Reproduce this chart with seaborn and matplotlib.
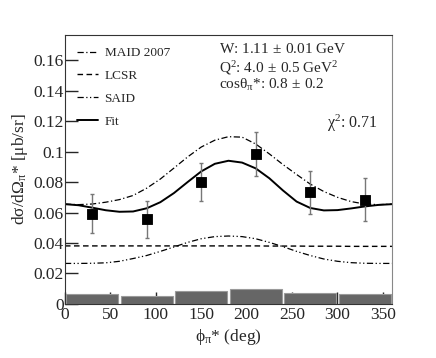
import numpy as np
import pandas as pd
import matplotlib
matplotlib.use('Agg')
import matplotlib.pyplot as plt
import seaborn as sns

# measured points
phi_data = [30, 90, 150, 210, 270, 330]
xs_data = [0.0593, 0.0556, 0.0798, 0.0985, 0.0732, 0.0684]
xs_err = [0.0127, 0.0121, 0.0124, 0.0142, 0.0140, 0.0141]

# systematic uncertainty bands
sys_phi = [30, 90, 150, 210, 270, 330]
sys_val = [0.0062, 0.0051, 0.0084, 0.0101, 0.0073, 0.0062]

# model curves, read every 15 deg
phi_grid = [0, 15, 30, 45, 60, 75, 90, 105, 120, 135, 150, 165, 180,
            195, 210, 225, 240, 255, 270, 285, 300, 315, 330, 345, 360]
maid = [0.0655, 0.0652, 0.0656, 0.0668, 0.0685, 0.0712, 0.0760, 0.0820, 0.0892,
        0.0965, 0.1030, 0.1075, 0.1098, 0.1095, 0.1050, 0.0985, 0.0915, 0.0850,
        0.0787, 0.0738, 0.0700, 0.0672, 0.0656, 0.0652, 0.0655]
lcsr = [0.0381, 0.0381, 0.0381, 0.0381, 0.0381, 0.0381, 0.0381, 0.0381, 0.0381,
        0.0381, 0.0381, 0.0381, 0.0381, 0.0381, 0.0381, 0.0380, 0.0380, 0.0380,
        0.0379, 0.0379, 0.0379, 0.0378, 0.0378, 0.0378, 0.0378]
said = [0.0266, 0.0266, 0.0267, 0.0270, 0.0280, 0.0298, 0.0318, 0.0345, 0.0374,
        0.0404, 0.0428, 0.0442, 0.0446, 0.0442, 0.0428, 0.0404, 0.0376, 0.0345,
        0.0318, 0.0295, 0.0280, 0.0271, 0.0267, 0.0266, 0.0266]
fit = [0.0655, 0.0648, 0.0632, 0.0615, 0.0605, 0.0607, 0.0628, 0.0668, 0.0728,
       0.0800, 0.0870, 0.0920, 0.0940, 0.0928, 0.0890, 0.0825, 0.0745, 0.0672,
       0.0630, 0.0614, 0.0616, 0.0627, 0.0640, 0.0650, 0.0655]

sns.set_style("ticks")
plt.rcParams['font.family'] = ['Liberation Serif', 'DejaVu Serif']
plt.rcParams['mathtext.fontset'] = 'custom'
plt.rcParams['mathtext.rm'] = 'Liberation Serif'
plt.rcParams['mathtext.it'] = 'Liberation Serif'
plt.rcParams['mathtext.default'] = 'rm'

fig = plt.figure(figsize=(4.36, 3.58), dpi=100)
ax = fig.add_axes([0.149, 0.151, 0.750, 0.751])

# systematic bars
ax.bar(sys_phi, sys_val, width=57, color='#666666', edgecolor='#9a9a9a', linewidth=0.8, zorder=1)

curves = pd.DataFrame({'phi': phi_grid, 'MAID 2007': maid, 'LCSR': lcsr, 'SAID': said, 'Fit': fit})
sns.lineplot(data=curves, x='phi', y='MAID 2007', ax=ax, color='black', lw=0.9,
             linestyle=(0, (5, 2, 1, 2)), label='MAID 2007')
sns.lineplot(data=curves, x='phi', y='LCSR', ax=ax, color='black', lw=1.0,
             linestyle=(0, (4, 2.5)), label='LCSR')
sns.lineplot(data=curves, x='phi', y='SAID', ax=ax, color='black', lw=0.9,
             linestyle=(0, (5, 2, 1, 2, 1, 2)), label='SAID')
sns.lineplot(data=curves, x='phi', y='Fit', ax=ax, color='black', lw=1.4,
             label='Fit')

ax.errorbar(phi_data, xs_data, yerr=xs_err, fmt='none', ecolor='#777777',
            elinewidth=1.0, capsize=1.5, zorder=4)
sns.scatterplot(x=phi_data, y=xs_data, ax=ax, marker='s', s=60, color='black',
                edgecolor='black', zorder=5)

ax.set_xlim(0, 360)
ax.set_ylim(0, 0.1765)
ax.set_xticks([0, 50, 100, 150, 200, 250, 300, 350])
ax.set_yticks([0, 0.02, 0.04, 0.06, 0.08, 0.1, 0.12, 0.14, 0.16])
ax.set_yticklabels(['0', '0.02', '0.04', '0.06', '0.08', '0.1', '0.12', '0.14', '0.16'])
ax.tick_params(direction='in', length=9, width=1, labelsize=12.5, pad=2)
ax.tick_params(axis='y', pad=1)
for s in ['top', 'left', 'bottom']:
    ax.spines[s].set_color('#333333')
ax.spines['right'].set_color('#888888')

ax.set_xlabel('ϕ$_{π}$* (deg)', fontsize=12.5, labelpad=3)
ax.set_ylabel('dσ/dΩ$_{π}$* [μb/sr]', fontsize=12.5, labelpad=2)

ax.legend(loc='upper left', frameon=False, fontsize=9.5, handlelength=1.6,
          labelspacing=0.8, borderaxespad=0.3, borderpad=0.6, handletextpad=0.5)

ax.text(0.47, 0.975, 'W: 1.11$\\,\\pm\\,$0.01 GeV', transform=ax.transAxes, fontsize=11, va='top')
ax.text(0.47, 0.91, 'Q$^2$: 4.0$\\,\\pm\\,$0.5 GeV$^2$', transform=ax.transAxes, fontsize=11, va='top')
ax.text(0.47, 0.845, 'cosθ$_{π}$*: 0.8$\\,\\pm\\,$0.2', transform=ax.transAxes, fontsize=11, va='top')
ax.text(0.80, 0.71, 'χ$^2$: 0.71', transform=ax.transAxes, fontsize=11.5, va='top')

fig.savefig('out.png', dpi=100)
